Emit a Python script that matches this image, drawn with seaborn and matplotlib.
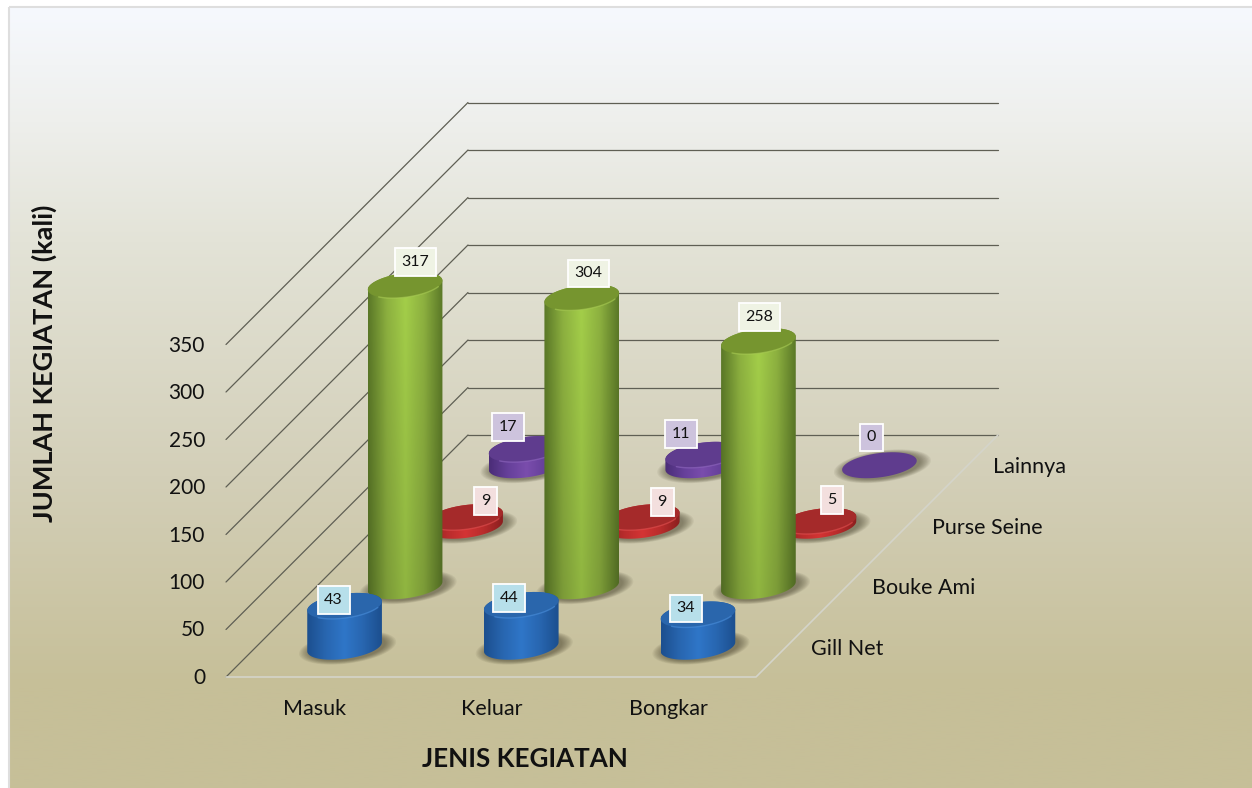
"""3D style cylinder chart of fishing port activity."""

import numpy as np
import pandas as pd
import seaborn as sns
import matplotlib.pyplot as plt
from matplotlib.colors import to_rgb
from matplotlib.patches import Polygon, Rectangle

###################################################################################################
###################################################################################################

categories = ['Masuk', 'Keluar', 'Bongkar']
series_names = ['Gill Net', 'Bouke Ami', 'Purse Seine', 'Lainnya']

gill_net = [43, 44, 34]
bouke_ami = [317, 304, 258]
purse_seine = [9, 9, 5]
lainnya = [17, 11, 0]

value_ticks = [0, 50, 100, 150, 200, 250, 300, 350]

# Geometry of the fake 3D box, in pixels
X0, Y0 = 226, 677
CAT_W = 176.67
DEPTH = 60.5
PX_PER_UNIT = 0.95
RAD_X, RAD_D = 35, 13

# Colours per series: edge, middle, highlight, top, lip, label box
styles = {
    'Gill Net': ['#1c4f8f', '#2866b0', '#2f76c8', '#2a66ac', '#4a8fdc', '#b7dfea'],
    'Bouke Ami': ['#5c7a28', '#8eb240', '#a5d04a', '#76952f', '#a9cc55', '#eff3e4'],
    'Purse Seine': ['#8c1f1f', '#b82c2c', '#d43434', '#a52a2a', '#e25050', '#f3dfde'],
    'Lainnya': ['#4b2d78', '#66409a', '#7a4dac', '#5f3c8e', '#9068c0', '#cdc3dd'],
}

# Hand placed offsets of the value labels from the top of each cylinder
label_offsets = {
    'Gill Net': [(-11, -6), (-12, -7), (-12, -6)],
    'Bouke Ami': [(10, -23), (7, -24), (1, -24)],
    'Purse Seine': [(20, -16), (20, -15), (13, -21)],
    'Lainnya': [(-18, -22), (-22, -21), (-8, -28)],
}

###################################################################################################
###################################################################################################

def project(cat, ser, val=0.):
    """Project a category / series / value position to figure pixels."""

    depth = ser * DEPTH
    return X0 + cat * CAT_W + depth, Y0 - depth - val * PX_PER_UNIT


def ellipse_arc(cx, cy, start, stop, scale=1., n_pts=60):
    """Points along the sheared circle that a cylinder end makes on the floor."""

    tt = np.linspace(start, stop, n_pts)
    xs = cx + scale * (RAD_X * np.cos(tt) + RAD_D * np.sin(tt))
    ys = cy - scale * RAD_D * np.sin(tt)
    return np.column_stack([xs, ys])


def draw_cylinder(ax, cat, ser, val, style, zorder):
    """Draw one cylinder with its floor shadow, shaded side and top."""

    cx, cy = project(cat + 0.5, ser + 0.5)
    tx, ty = project(cat + 0.5, ser + 0.5, val)
    edge, mid, high, top, lip = style[:5]

    # Soft shadow on the floor
    for scale in np.linspace(1.3, 1.02, 9):
        ax.add_patch(Polygon(ellipse_arc(cx + 3, cy + 1, 0, 2*np.pi, scale), fc='#3c3722',
                             ec='none', alpha=0.07, zorder=zorder))

    t0 = np.arctan2(RAD_D, RAD_X)
    half_w = np.hypot(RAD_D, RAD_X)

    if val > 0:

        outline = np.vstack([ellipse_arc(cx, cy, t0 + np.pi, t0 + 2*np.pi),
                             ellipse_arc(tx, ty, t0, t0 + np.pi)])
        clip = Polygon(outline, fc='none', ec='none', transform=ax.transData)
        ax.add_patch(clip)

        # Side: horizontal gradient, fading a little towards the floor
        ramp = np.array(sns.blend_palette([edge, mid, high, mid, edge], 80))
        rows = np.linspace(1.0, 0.87, 40)[:, None, None] if val > 100 else np.ones((1, 1, 1))
        side = np.clip(ramp[None, :, :] * rows, 0, 1)
        img = ax.imshow(side, extent=[cx - half_w, cx + half_w, cy + RAD_D + 2, ty - RAD_D - 2],
                        aspect='auto', interpolation='bilinear', zorder=zorder + 0.1)
        img.set_clip_path(clip)

    ax.add_patch(Polygon(ellipse_arc(tx, ty, 0, 2*np.pi), fc=top, ec='none', zorder=zorder + 0.2))
    if val > 0:
        ax.plot(*ellipse_arc(tx, ty, t0 + np.pi*1.25, t0 + np.pi*1.85).T, color=lip, lw=1,
                alpha=0.6, zorder=zorder + 0.3)


def plot_chart():
    """Plot the whole chart on an axes that spans the figure, in pixel units."""

    sns.set_theme(style='white')
    plt.rcParams['font.family'] = ['Lato', 'DejaVu Sans']

    fig = plt.figure(figsize=[12.52, 7.88], dpi=100, facecolor='white')
    ax = fig.add_axes([0, 0, 1, 1])

    # Background gradient panel
    stops = [(0.0, '#f6f9fe'), (0.145, '#eeefec'), (0.30, '#e3e3d7'), (0.60, '#d3cfb8'),
             (0.87, '#c6bf98'), (1.0, '#c6bf98')]
    rows = np.linspace(0, 1, 400)
    grad = np.stack([np.interp(rows, [st[0] for st in stops], [to_rgb(st[1])[ii] for st in stops])
                     for ii in range(3)], axis=1)[:, None, :]
    ax.imshow(grad, extent=[10, 1252, 788, 8], aspect='auto', zorder=0)
    ax.add_patch(Rectangle((9, 7), 1250, 790, fc='none', ec='#dedede', lw=1.5, zorder=0.5))

    # Walls of the box
    n_cats, n_sers = len(categories), len(series_names)
    rows = []
    for val in value_ticks:
        for part, pts in [('side', [(0, 0), (0, n_sers)]), ('back', [(0, n_sers), (n_cats, n_sers)])]:
            for cat, ser in pts:
                xx, yy = project(cat, ser, val)
                rows.append({'x': xx, 'y': yy, 'line': f'{part}{val}'})
    grid = pd.DataFrame(rows)
    sns.lineplot(data=grid, x='x', y='y', units='line', estimator=None, sort=False,
                 color='#5f5f54', lw=0.9, ax=ax, zorder=1)

    # Light front and right edges of the floor
    edge_pts = np.array([project(0, 0), project(n_cats, 0), project(n_cats, n_sers)])
    ax.plot(edge_pts[:, 0], edge_pts[:, 1], color='#d4d4ca', lw=1.2, zorder=1)

    # Cylinders, back row first
    all_values = [gill_net, bouke_ami, purse_seine, lainnya]
    for ser in reversed(range(n_sers)):
        for cat in range(n_cats):
            draw_cylinder(ax, cat, ser, all_values[ser][cat], styles[series_names[ser]],
                          zorder=2 + (n_sers - ser) + cat * 0.2)

    # Value labels
    for ser, name in enumerate(series_names):
        for cat, val in enumerate(all_values[ser]):
            tx, ty = project(cat + 0.5, ser + 0.5, val)
            dx, dy = label_offsets[name][cat]
            ax.text(tx + dx, ty + dy, str(val), ha='center', va='center', fontsize=11.5,
                    color='#111111', zorder=10,
                    bbox=dict(boxstyle='square,pad=0.42', fc=styles[name][5], ec='white', lw=1.3))

    # Axis labels
    for val in value_ticks:
        xx, yy = project(0, 0, val)
        ax.text(xx - 21, yy + 1, str(val), ha='right', va='center', fontsize=15, color='#111111',
                zorder=10)
    for cat, name in enumerate(categories):
        xx, yy = project(cat + 0.5, 0)
        ax.text(xx + 0.5, yy + 32, name, ha='center', va='center', fontsize=15.5, color='#111111',
                zorder=10)
    for ser, name in enumerate(series_names):
        xx, yy = project(n_cats, ser + 0.5)
        ax.text(xx + 25, yy + 2, name, ha='left', va='center', fontsize=15.5, color='#111111',
                zorder=10)

    ax.text(525, 759, 'JENIS KEGIATAN', ha='center', va='center', fontsize=18.7, fontweight='bold',
            color='#111111', zorder=10)
    ax.text(44, 363, 'JUMLAH KEGIATAN (kali)', ha='center', va='center', rotation=90, fontsize=19.5,
            fontweight='bold', color='#111111', zorder=10)

    ax.set_xlim(0, 1252)
    ax.set_ylim(788, 0)
    ax.axis('off')

    fig.savefig('out.png', dpi=100)


plot_chart()
